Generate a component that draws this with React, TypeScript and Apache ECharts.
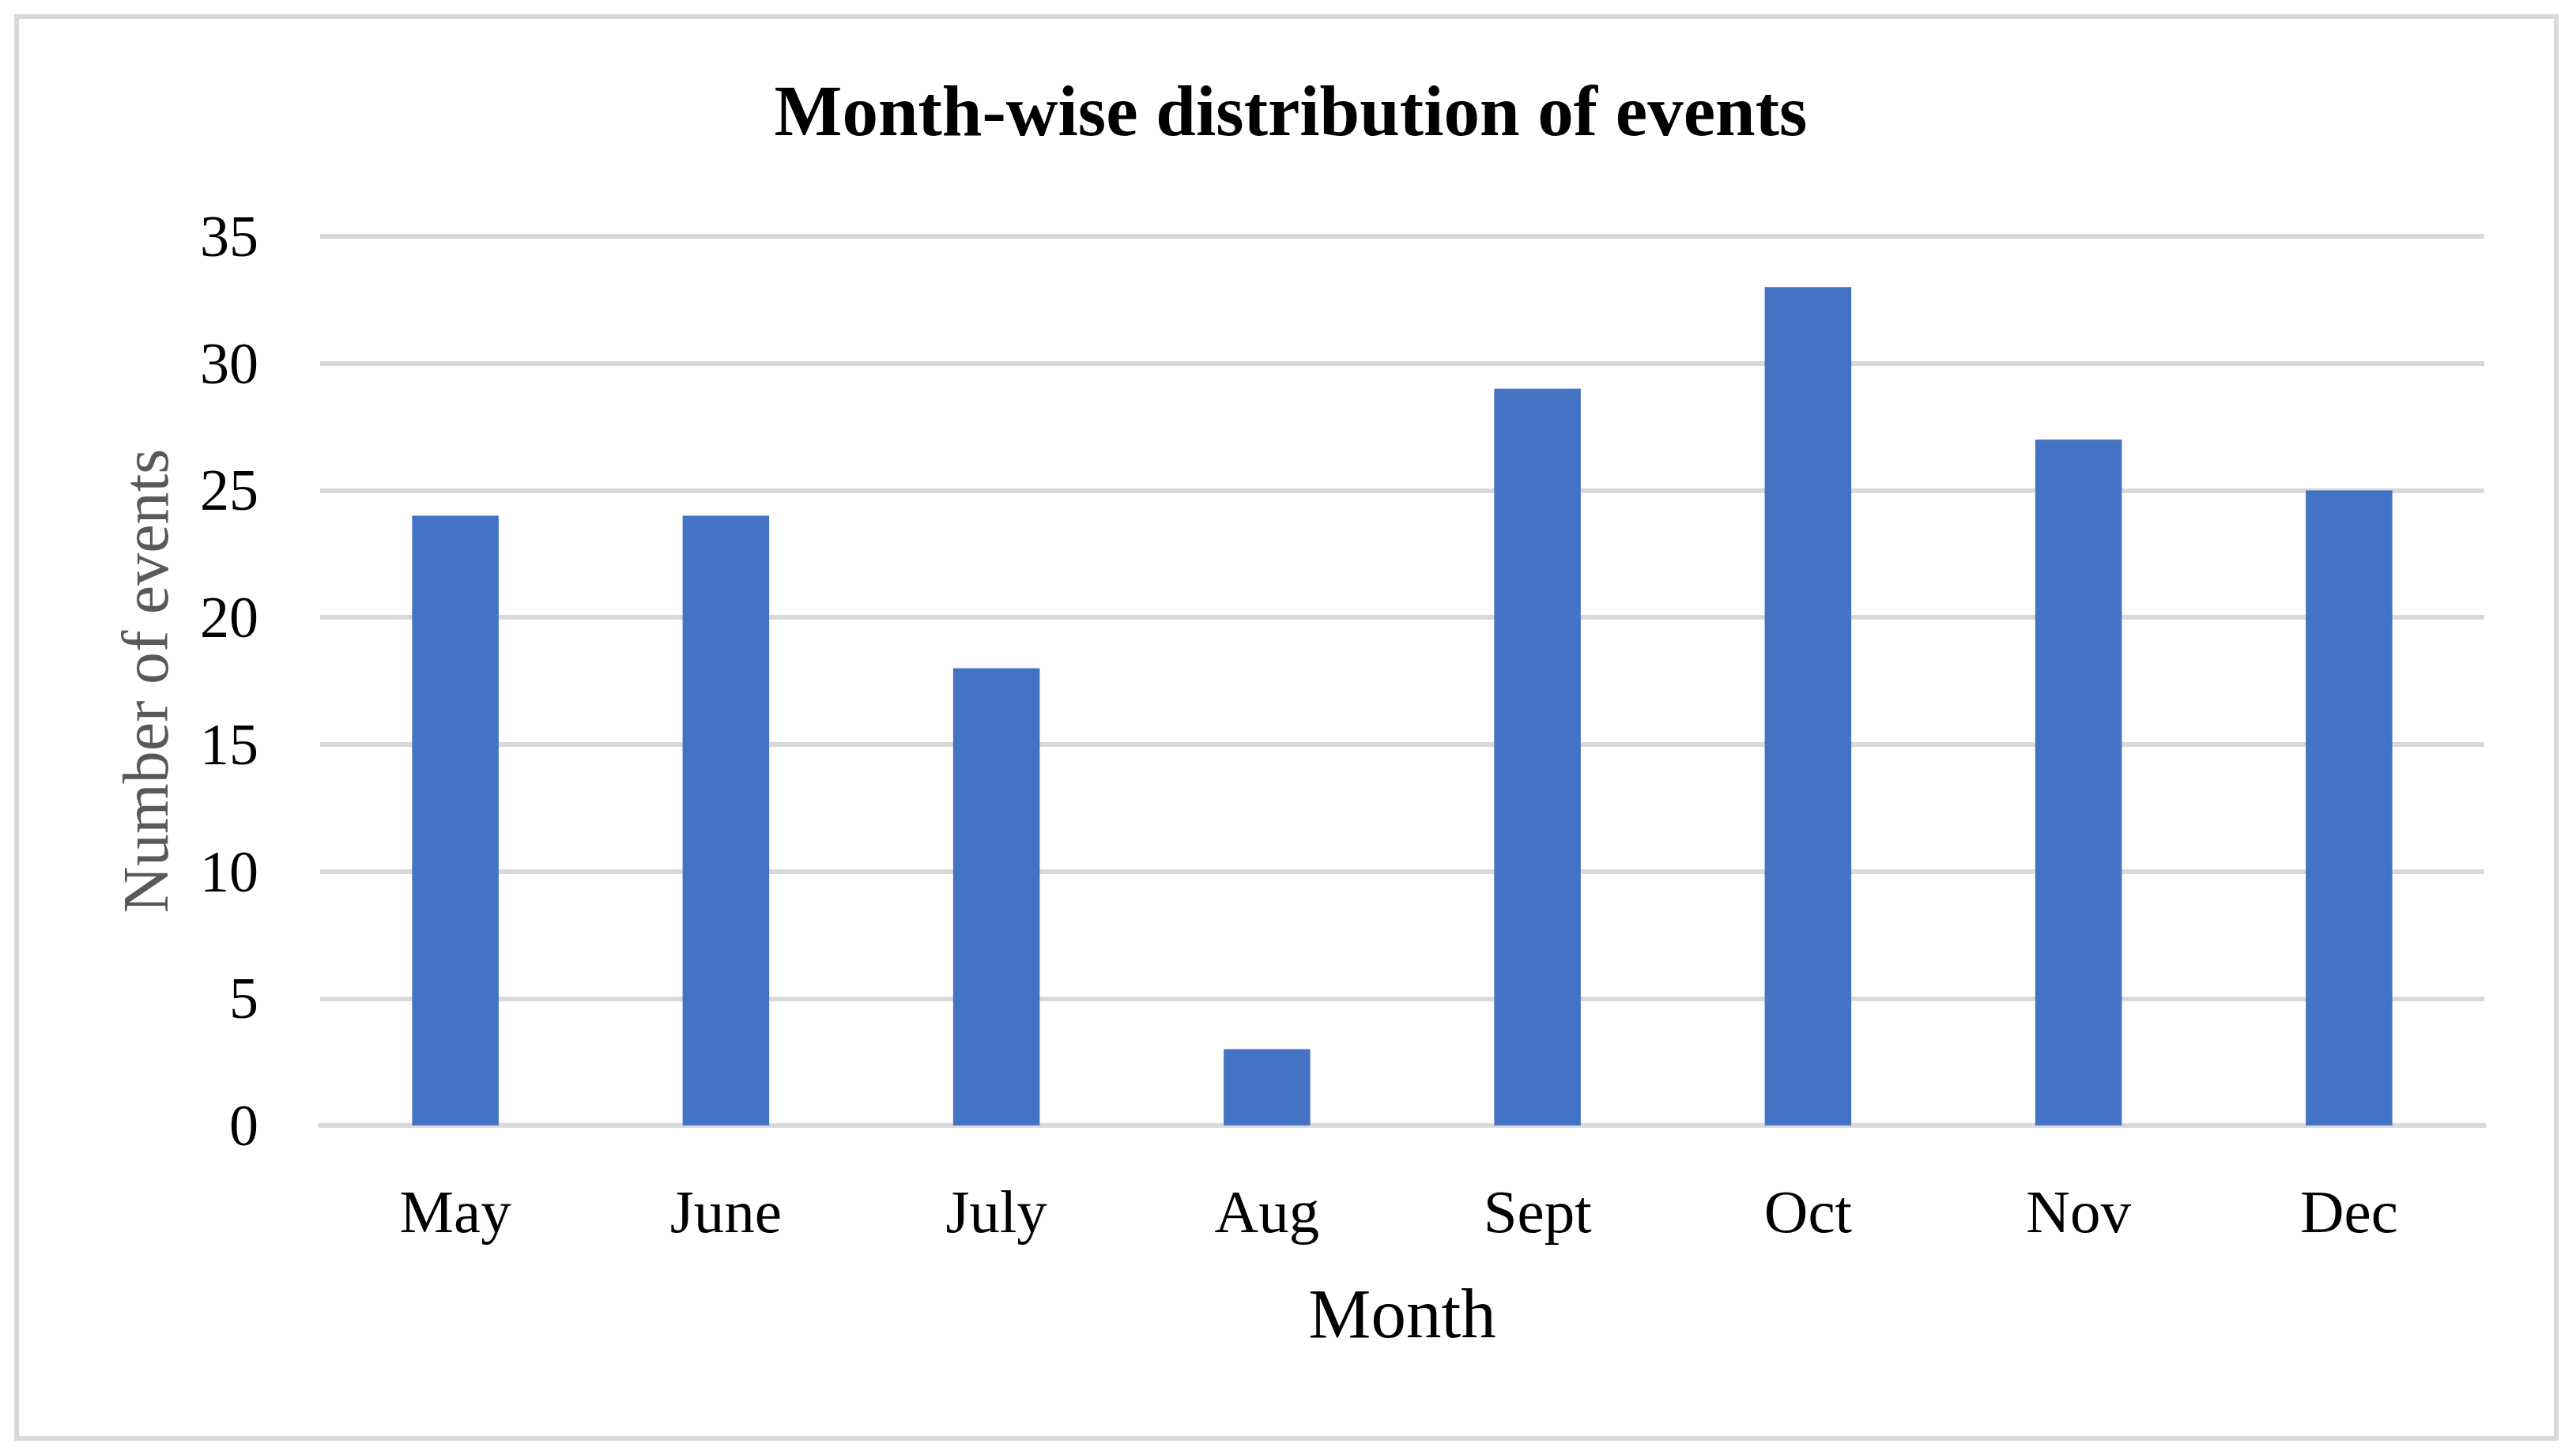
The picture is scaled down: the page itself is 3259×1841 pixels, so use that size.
import React, { useEffect, useRef } from "react";
import * as echarts from "echarts";

const months = ["May", "June", "July", "Aug", "Sept", "Oct", "Nov", "Dec"];
const eventCounts = [24, 24, 18, 3, 29, 33, 27, 25];
const yTicks = { min: 0, max: 35, interval: 5 };

const FONT = "'Liberation Serif', 'DejaVu Serif', serif";

export default function App() {
  const ref = useRef<HTMLDivElement>(null);
  useEffect(() => {
    if (!ref.current) return;
    const chart = echarts.init(ref.current, undefined, { renderer: "svg" });
    chart.setOption({
      animation: false,
      backgroundColor: "#ffffff",
      title: {
        text: "Month-wise distribution of events",
        left: 1628,
        textAlign: "center",
        top: 90,
        textStyle: { fontFamily: FONT, fontWeight: "bold", fontSize: 91, color: "#000000" },
      },
      graphic: [
        {
          type: "rect",
          shape: { x: 21, y: 21, width: 3213, height: 1799 },
          style: { fill: "none", stroke: "#d9d9d9", lineWidth: 6 },
          z: -1,
        },
      ],
      grid: { left: 405, right: 116, top: 299, bottom: 417 },
      xAxis: {
        type: "category",
        data: months,
        name: "Month",
        nameLocation: "middle",
        nameGap: 193,
        nameTextStyle: { fontFamily: FONT, fontSize: 89, color: "#000000" },
        axisLine: { show: true, lineStyle: { color: "#d9d9d9", width: 6 } },
        axisTick: { show: false },
        axisLabel: { fontFamily: FONT, fontSize: 77, color: "#000000", margin: 70 },
      },
      yAxis: {
        type: "value",
        min: yTicks.min,
        max: yTicks.max,
        interval: yTicks.interval,
        name: "Number of events",
        nameLocation: "middle",
        nameGap: 180,
        nameTextStyle: { fontFamily: FONT, fontSize: 82, color: "#595959" },
        axisLine: { show: false },
        axisTick: { show: false },
        axisLabel: { fontFamily: FONT, fontSize: 74, color: "#000000", margin: 78 },
        splitLine: { show: true, lineStyle: { color: "#d9d9d9", width: 6 } },
      },
      series: [
        {
          type: "bar",
          data: eventCounts,
          barWidth: "32%",
          itemStyle: { color: "#4472c4" },
        },
      ],
    });
    return () => chart.dispose();
  }, []);
  return (
    <div
      ref={ref}
      style={{ position: "absolute", left: 0, top: 0, width: "3259px", height: "1841px" }}
    />
  );
}
